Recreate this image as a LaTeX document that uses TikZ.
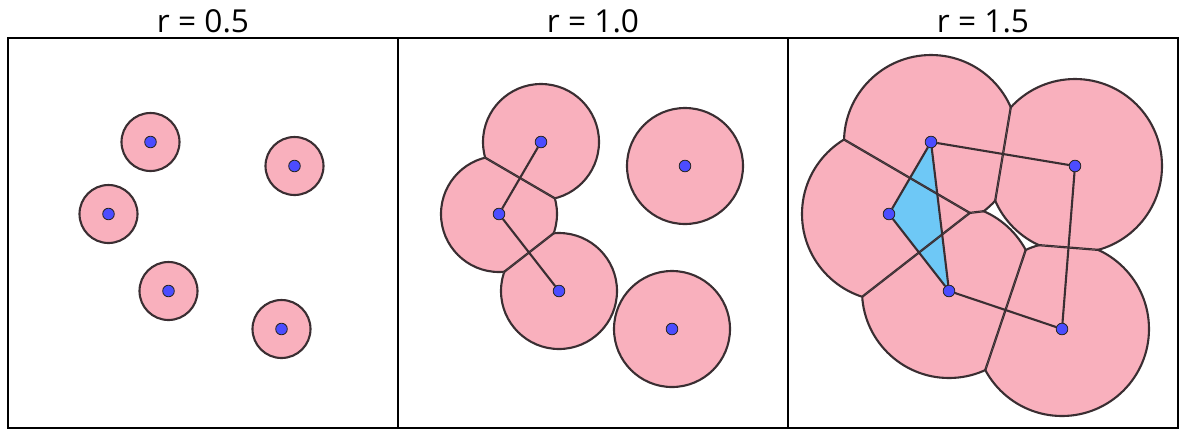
\documentclass[tikz,border=0pt]{standalone}
\usepackage{fontspec}
\newfontfamily\titlefont{Open Sans}
\usetikzlibrary{calc}
\definecolor{ballpink}{RGB}{249,176,189}
\definecolor{wallgray}{RGB}{58,46,50}
\definecolor{siteblue}{RGB}{76,76,255}
\definecolor{simplexblue}{RGB}{110,200,246}
\tikzset{
  ball/.style={fill=ballpink},
  rim/.style={draw=wallgray, line width=1.5pt},
  wall/.style={draw=wallgray, line width=1.6pt},
  link/.style={draw=wallgray, line width=1.5pt},
  site/.style={circle, fill=siteblue, draw=black!85, line width=0.6pt, inner sep=0pt, minimum size=0.29cm},
  frame/.style={draw=black, line width=1.6pt},
  title/.style={font=\titlefont\fontsize{22.5}{26}\selectfont, anchor=base, inner sep=0pt},
}
% bisector of two sites, and the far corners on the side of the first one
\newcommand{\bisect}[2]{%
  \coordinate (mid) at ($(#1)!0.5!(#2)$);
  \coordinate (bisA) at ($(mid)!6!90:(#2)$);
  \coordinate (bisB) at ($(mid)!6!-90:(#2)$);
  \coordinate (bisC) at ($(mid)!8.5!-135:(#2)$);
  \coordinate (bisD) at ($(mid)!8.5!135:(#2)$);}
\newcommand{\halfclip}[2]{\bisect{#1}{#2}\clip (bisA) -- (bisB) -- (bisC) -- (bisD) -- cycle;}
\newcommand{\wallline}[2]{\bisect{#1}{#2}\draw[wall] (bisA) -- (bisB);}
% Voronoi cell of site #1 against the four others
\newcommand{\cellclip}[5]{\halfclip{#1}{#2}\halfclip{#1}{#3}\halfclip{#1}{#4}\halfclip{#1}{#5}}
\newcommand{\cellwalls}[5]{\wallline{#1}{#2}\wallline{#1}{#3}\wallline{#1}{#4}\wallline{#1}{#5}}

\begin{document}
\begin{tikzpicture}[x=0.025cm, y=-0.025cm]
  \useasboundingbox (0,0) rectangle (1180,430);

  % Define the sites of every panel
  \foreach \k/\dx in {1/0, 2/390.5, 3/780.5}{
    \coordinate (A\k) at (150.5+\dx,142);
    \coordinate (B\k) at (294.5+\dx,166);
    \coordinate (C\k) at (108.5+\dx,214);
    \coordinate (D\k) at (168.5+\dx,291);
    \coordinate (E\k) at (281.5+\dx,329);
  }

  % Balls cut to their Voronoi cells
  \foreach \k/\r in {1/29, 2/58, 3/87}
    \foreach \s/\ta/\tb/\tc/\td in {A/B/C/D/E, B/A/C/D/E, C/A/B/D/E, D/A/B/C/E, E/A/B/C/D}{
      \begin{scope}
        \cellclip{\s\k}{\ta\k}{\tb\k}{\tc\k}{\td\k}
        \fill[ball] (\s\k) circle[radius=\r];
      \end{scope}
    }

  % Filled triangle
  \fill[simplexblue] (A3) -- (C3) -- (D3) -- cycle;

  % Rims and cell walls
  \foreach \k/\r in {1/29, 2/58, 3/87}
    \foreach \s/\ta/\tb/\tc/\td in {A/B/C/D/E, B/A/C/D/E, C/A/B/D/E, D/A/B/C/E, E/A/B/C/D}{
      \begin{scope}
        \cellclip{\s\k}{\ta\k}{\tb\k}{\tc\k}{\td\k}
        \draw[rim] (\s\k) circle[radius=\r];
        \clip (\s\k) circle[radius=\r];
        \cellwalls{\s\k}{\ta\k}{\tb\k}{\tc\k}{\td\k}
      \end{scope}
    }

  % Sites
  \foreach \k in {1,2,3}
    \foreach \s in {A,B,C,D,E}
      \node[site] (dot\s\k) at (\s\k) {};

  % Edges
  \draw[link] (dotA2) -- (dotC2);
  \draw[link] (dotC2) -- (dotD2);
  \draw[link] (dotA3) -- (dotB3);
  \draw[link] (dotA3) -- (dotC3);
  \draw[link] (dotA3) -- (dotD3);
  \draw[link] (dotC3) -- (dotD3);
  \draw[link] (dotB3) -- (dotE3);
  \draw[link] (dotD3) -- (dotE3);

  % Frames and titles
  \draw[frame] (8,38) rectangle (1178,428);
  \draw[frame] (398,38) -- (398,428);
  \draw[frame] (788,38) -- (788,428);
  \node[title] (title1) at (203,32) {r = 0.5};
  \node[title] (title2) at (593,32) {r = 1.0};
  \node[title] (title3) at (983,32) {r = 1.5};
\end{tikzpicture}
\end{document}
